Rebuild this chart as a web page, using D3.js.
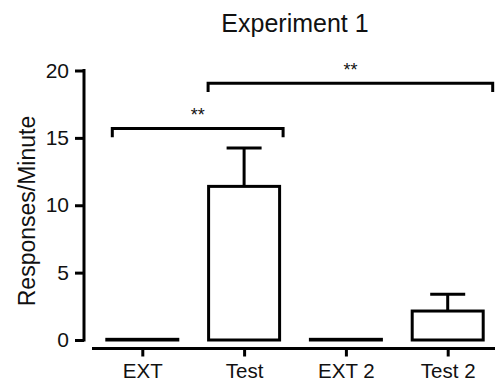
<!DOCTYPE html>
<html lang="en">
<head>
    <meta charset="UTF-8">
    <title>Experiment 1</title>
    <script src="https://d3js.org/d3.v7.min.js"></script>
    <style>
        body { margin: 0; font-family: "Liberation Sans", Arial, sans-serif; background: #fff; }
        svg { display: block; }
    </style>
</head>
<body>
    <div id="chart"></div>
    <script>
        const categories = ["EXT", "Test", "EXT 2", "Test 2"];
        const means = [0.05, 11.4, 0.05, 2.15];
        const errors = [0, 2.85, 0, 1.25];
        const yTicks = [0, 5, 10, 15, 20];
        // significance brackets: from/to category, height in data units, label
        const brackets = [
            { from: "EXT", to: "Test", y: 15.7, drop: 0.65, dx0: -30, dx1: 39, label: "**" },
            { from: "Test", to: "Test 2", y: 19.05, drop: 0.65, dx0: -36, dx1: 45, label: "**" }
        ];

        const width = 495, height = 382;
        const font = "Liberation Sans, Arial, sans-serif";
        const svg = d3.select("#chart").append("svg")
            .attr("width", width).attr("height", height);

        const x = d3.scalePoint().domain(categories).range([142.3, 447.7]);
        const y = d3.scaleLinear().domain([0, 20]).range([340, 70.5]);
        const barW = 71;
        const capW = 35;

        // title
        svg.append("text")
            .attr("x", 295).attr("y", 32)
            .attr("text-anchor", "middle")
            .style("font-size", "25px")
            .attr("fill", "#111")
            .text("Experiment 1");

        // y axis
        const yAxis = svg.append("g")
            .attr("transform", "translate(84,0)")
            .call(d3.axisLeft(y).tickValues(yTicks).tickSize(9).tickPadding(6));
        yAxis.select(".domain").attr("d", `M0,${y(20) - 1.5}V${y(0) + 1.5}`).attr("stroke-width", 3);
        yAxis.selectAll(".tick line").attr("stroke-width", 3);
        yAxis.selectAll("text").style("font-size", "21px").style("font-family", font).attr("fill", "#111");

        // x axis
        const xAxis = svg.append("g")
            .attr("transform", "translate(0,348.5)")
            .call(d3.axisBottom(x).tickSize(8).tickPadding(7));
        xAxis.select(".domain").attr("d", "M92,0H495").attr("stroke-width", 3);
        xAxis.selectAll(".tick line").attr("stroke-width", 3);
        xAxis.selectAll("text").style("font-size", "20.5px").style("font-family", font).attr("fill", "#111");

        // y label
        svg.append("text")
            .attr("transform", `translate(35,211) rotate(-90)`)
            .attr("text-anchor", "middle")
            .style("font-size", "23px")
            .attr("fill", "#111")
            .text("Responses/Minute");

        // error bars (drawn before bars so the bar outline sits on top)
        categories.forEach((c, i) => {
            if (errors[i] <= 0) return;
            const cx = x(c);
            svg.append("line")
                .attr("x1", cx).attr("x2", cx)
                .attr("y1", y(means[i])).attr("y2", y(means[i] + errors[i]))
                .attr("stroke", "#000").attr("stroke-width", 3);
            svg.append("line")
                .attr("x1", cx - capW / 2).attr("x2", cx + capW / 2)
                .attr("y1", y(means[i] + errors[i])).attr("y2", y(means[i] + errors[i]))
                .attr("stroke", "#000").attr("stroke-width", 3);
        });

        // bars
        svg.selectAll(".bar")
            .data(categories)
            .enter().append("rect")
            .attr("class", "bar")
            .attr("x", d => x(d) - barW / 2)
            .attr("width", barW)
            .attr("y", (d, i) => y(means[i]))
            .attr("height", (d, i) => y(0) - y(means[i]))
            .attr("fill", "#fff")
            .attr("stroke", "#000")
            .attr("stroke-width", 3);

        // brackets
        brackets.forEach(b => {
            const x0 = x(b.from) + b.dx0, x1 = x(b.to) + b.dx1;
            svg.append("path")
                .attr("d", `M${x0},${y(b.y - b.drop)}V${y(b.y)}H${x1}V${y(b.y - b.drop)}`)
                .attr("fill", "none").attr("stroke", "#000").attr("stroke-width", 3);
            svg.append("text")
                .attr("x", (x0 + x1) / 2).attr("y", y(b.y) - 7)
                .attr("text-anchor", "middle")
                .style("font-size", "18px")
                .attr("fill", "#111")
                .text(b.label);
        });
    </script>
</body>
</html>
